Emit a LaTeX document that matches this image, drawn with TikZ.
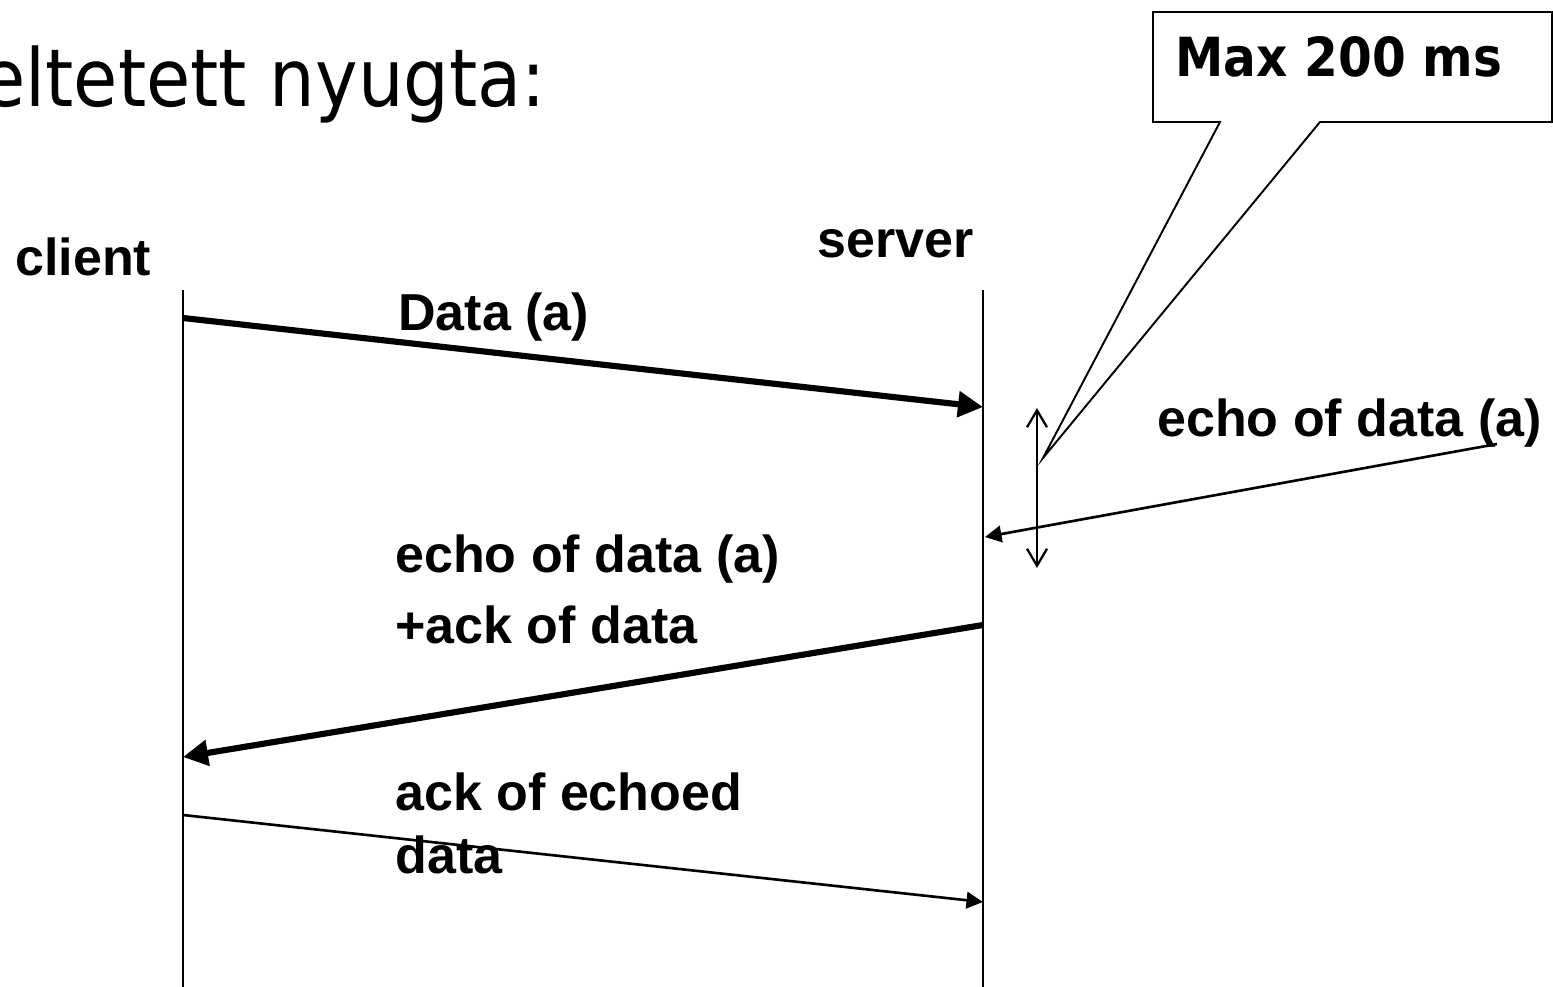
\documentclass[tikz,border=0pt]{standalone}
\usepackage{fontspec}
\usepackage{tikz}
\usetikzlibrary{arrows.meta, positioning, calc}
\newfontfamily\arialfont{Liberation Sans}
\newfontfamily\tahomafont{DejaVu Sans Condensed}
\newcommand{\lblfont}{\arialfont\bfseries\fontsize{29.6pt}{35pt}\selectfont}
\tikzset{
  lbl/.style={font=\lblfont, inner sep=0pt, anchor=base west},
  lifeline/.style={line width=1.1pt},
  msgthick/.style={line width=3.5pt, -{Triangle[length=0.5cm,width=0.5cm]}},
  msgthin/.style={line width=1.5pt, -{Triangle[length=0.33cm,width=0.33cm]}},
}

\begin{document}
\begin{tikzpicture}[x=0.02cm, y=-0.02cm]
\useasboundingbox (0,0) rectangle (1553,987);
% title, cut off at the left edge
\node[font=\tahomafont\fontsize{45.5pt}{54pt}\selectfont, inner sep=0pt, anchor=base east] (title) at (546,106) {eltetett nyugta:};
% lifelines
\coordinate (cTop) at (183,290);
\coordinate (cBot) at (183,987);
\coordinate (sTop) at (983,290);
\coordinate (sBot) at (983,987);
\draw[lifeline] (cTop) -- (cBot);
\draw[lifeline] (sTop) -- (sBot);
\node[lbl] (client) at (15,275) {client};
\node[lbl] (server) at (817,257) {server};
% messages
\coordinate (c1) at (183,318);
\coordinate (s1) at (983,407);
\coordinate (s2) at (983,625);
\coordinate (c2) at (183,757);
\coordinate (c3) at (183,815);
\coordinate (s3) at (983,902);
\coordinate (e0) at (1497,444);
\coordinate (s0) at (985,537);
\draw[msgthick] (c1) -- (s1);
\draw[msgthick] (s2) -- (c2);
\draw[msgthin] (c3) -- (s3);
\draw[msgthin] (e0) -- (s0);
\node[lbl] (data) at (398,330) {Data (a)};
\node[lbl] (echoR) at (1157,436) {echo of data (a)};
\node[lbl] (echoL) at (395,572) {echo of data (a)};
\node[lbl] (ackL) at (395,643) {+ack of data};
\node[lbl] (ackE) at (395,810) {ack of echoed};
\node[lbl] (ackD) at (395,873) {data};
% delay span
\coordinate (d1) at (1037,408);
\coordinate (d2) at (1037,568);
\draw[line width=1.3pt, {Straight Barb[length=0.34cm,width=0.4cm]}-{Straight Barb[length=0.34cm,width=0.4cm]}] (d1) -- (d2);
% callout
\coordinate (tip) at (1043,458);
\draw[line width=1.1pt, fill=white] (1153,12) -- (1552,12) -- (1552,122) -- (1320,122) -- (tip) -- (1220,122) -- (1153,122) -- cycle;
\node[font=\tahomafont\bfseries\fontsize{30.7pt}{36pt}\selectfont, inner sep=0pt, anchor=base west] (max) at (1175,76) {Max 200 ms};
\end{tikzpicture}
\end{document}
